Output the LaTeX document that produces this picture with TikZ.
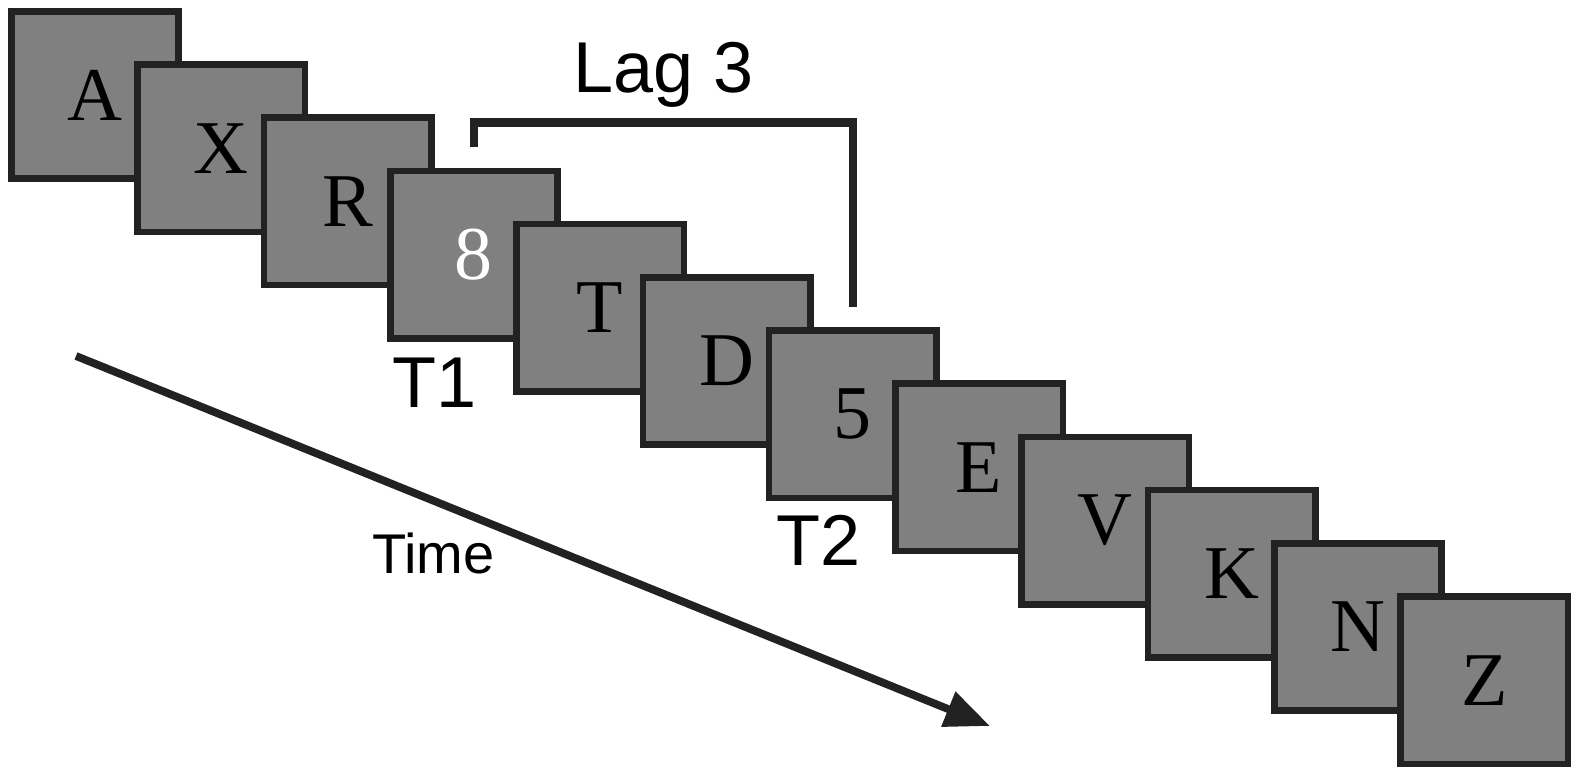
\documentclass[tikz,border=0pt]{standalone}
\usepackage{fontspec}
\setmainfont{Liberation Serif}
\newfontfamily\labelfont{Liberation Sans}
\usetikzlibrary{positioning}
\usetikzlibrary{arrows.meta}

\definecolor{cardgray}{HTML}{808080}
\definecolor{inkdark}{HTML}{222222}

\begin{document}
\begin{tikzpicture}[x=0.5pt, y=-0.5pt, on grid,
    node distance=26.6pt and 63.15pt,
    card/.style={draw=inkdark, fill=cardgray, line width=3.3pt,
      minimum size=83.7pt, inner sep=0pt, outer sep=0pt,
      font=\fontsize{38}{40}\selectfont},
    tag/.style={inner sep=0pt, font=\labelfont\fontsize{36}{40}\selectfont},
    bracket/.style={draw=inkdark, line width=4.3pt},
    timeline/.style={draw=inkdark, line width=3.9pt,
      -{Triangle[length=22.5pt, width=18pt]}}]
  \useasboundingbox (0,0) rectangle (1575,767);

  % the stream of items, each one on top of the last
  \node[card] (sA) at (95,95) {A};
  \node[card, below right=of sA] (sX) {X};
  \node[card, below right=of sX] (sR) {R};
  \node[card, below right=of sR, text=white] (s8) {8};
  \node[card, below right=of s8] (sT) {T};
  \node[card, below right=of sT] (sD) {D};
  \node[card, below right=of sD] (s5) {5};
  \node[card, below right=of s5] (sE) {E};
  \node[card, below right=of sE] (sV) {V};
  \node[card, below right=of sV] (sK) {K};
  \node[card, below right=of sK] (sN) {N};
  \node[card, below right=of sN] (sZ) {Z};

  \node[tag] (t1) at (434.5,382.5) {T1};
  \node[tag] (t2) at (818.5,540) {T2};

  % lag bracket from T1 to T2
  \draw[bracket] ([yshift=11.8pt]s8.north) -- ++(0,12.5pt)
    -| node[pos=0.25, tag, anchor=base, yshift=15pt] (lag) {Lag 3}
    ([yshift=11.8pt]s5.north);

  % time axis
  \coordinate (tstart) at (76,356);
  \coordinate (tend) at (990,726);
  \draw[timeline] (tstart) -- (tend);
  \node[inner sep=0pt, font=\labelfont\fontsize{28}{30}\selectfont] (time) at (433.5,553) {Time};
\end{tikzpicture}
\end{document}
